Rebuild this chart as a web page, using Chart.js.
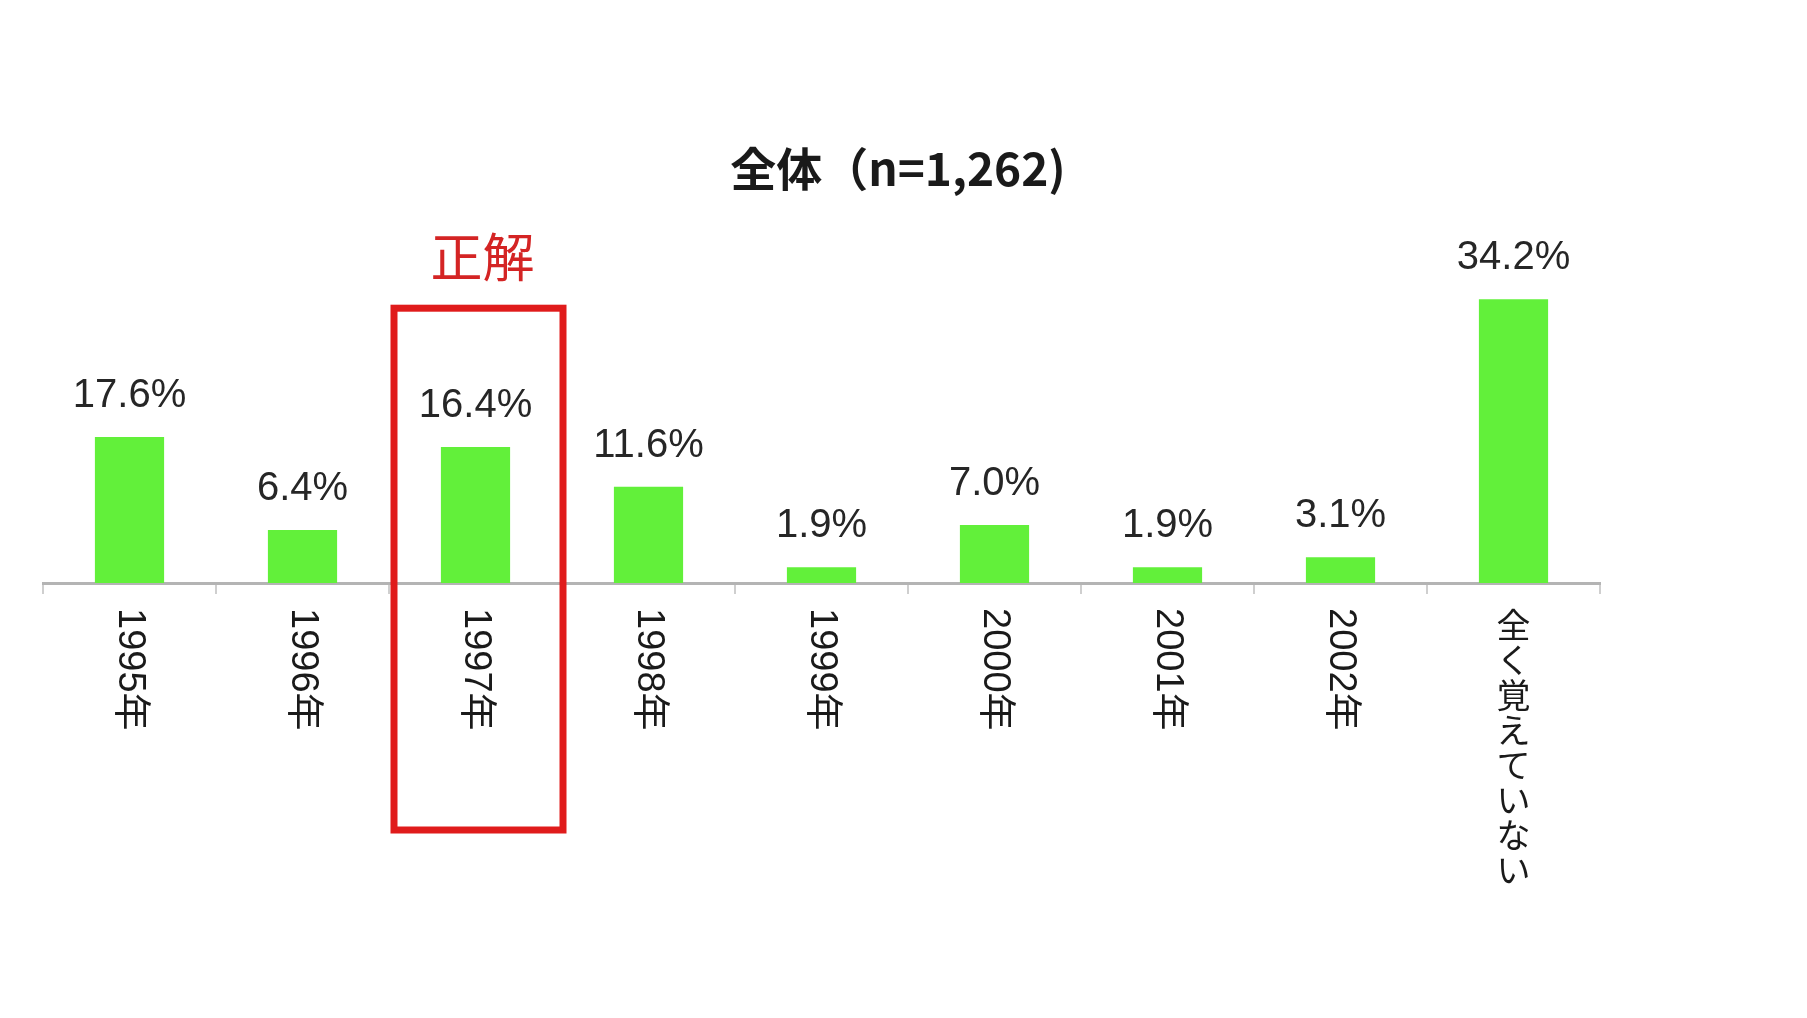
<!DOCTYPE html>
<html>
<head>
    <meta charset="utf-8">
    <title>全体（n=1,262)</title>
    <script src="https://cdn.jsdelivr.net/npm/chart.js@4.4.1/dist/chart.umd.min.js"></script>
    <style>
        body { margin: 0; background: #fff; }
        #wrap { width: 1807px; height: 1018px; position: relative; }
    </style>
</head>
<body>
    <div id="wrap"><canvas id="chartCanvas"></canvas></div>

    <script>
        // Date
        const categories = ['1995年', '1996年', '1997年', '1998年', '1999年', '2000年', '2001年', '2002年', '全く覚えていない'];
        const percents = [17.6, 6.4, 16.4, 11.6, 1.9, 7.0, 1.9, 3.1, 34.2];
        const answerLabel = '1997年';
        const titleText = '全体（n=1,262)';
        const answerText = '正解';

        const latinFont = '"Liberation Sans", Arial, "Noto Sans CJK JP", sans-serif';
        const cjkFont = '"Noto Sans CJK JP", "Liberation Sans", sans-serif';

        // Etichete, ticks si caseta rosie
        const labelsPlugin = {
            id: 'labelsPlugin',
            afterDraw(chart) {
                const ctx = chart.ctx;
                const xScale = chart.scales.x;
                const area = chart.chartArea;
                const meta = chart.getDatasetMeta(0);

                ctx.save();
                // valori deasupra barelor
                ctx.fillStyle = '#262626';
                ctx.font = '40px ' + latinFont;
                ctx.textAlign = 'center';
                ctx.textBaseline = 'middle';
                meta.data.forEach((bar, i) => {
                    ctx.fillText(percents[i].toFixed(1) + '%', bar.x, bar.y - 41);
                });

                // etichete axa x
                categories.forEach((label, i) => {
                    const x = xScale.getPixelForTick(i);
                    const top = area.bottom + 25;
                    ctx.fillStyle = '#1a1a1a';
                    if (/^\d/.test(label)) {
                        ctx.save();
                        ctx.translate(x, top);
                        ctx.rotate(Math.PI / 2);
                        ctx.font = '38px ' + latinFont;
                        ctx.textAlign = 'left';
                        ctx.textBaseline = 'middle';
                        ctx.fillText(label, 0, 0);
                        ctx.restore();
                    } else {
                        ctx.font = '34px ' + cjkFont;
                        ctx.textAlign = 'center';
                        ctx.textBaseline = 'top';
                        Array.from(label).forEach((ch, k) => {
                            ctx.fillText(ch, x, top + k * 35);
                        });
                    }
                });

                // caseta "正解"
                const idx = categories.indexOf(answerLabel);
                const cx = xScale.getPixelForTick(idx) + 3;
                const half = xScale.width / categories.length / 2 - 2;
                ctx.strokeStyle = '#e01b1b';
                ctx.lineWidth = 7;
                ctx.strokeRect(cx - half, area.top + 57, half * 2, area.bottom - area.top + 190);
                ctx.fillStyle = '#d42424';
                ctx.font = '52px ' + cjkFont;
                ctx.textAlign = 'center';
                ctx.textBaseline = 'middle';
                ctx.fillText(answerText, cx + 4, area.top + 6);
                ctx.restore();
            }
        };

        const ctx = document.getElementById('chartCanvas').getContext('2d');
        const chart = new Chart(ctx, {
            type: 'bar',
            data: {
                labels: categories,
                datasets: [{
                    data: percents,
                    backgroundColor: '#62f03a',
                    barPercentage: 0.4,
                    categoryPercentage: 1.0,
                }],
            },
            options: {
                responsive: true,
                maintainAspectRatio: false,
                animation: false,
                devicePixelRatio: 1,
                layout: {
                    padding: { left: 43, right: 54, top: 141, bottom: 0 },
                },
                plugins: {
                    legend: { display: false },
                    tooltip: { enabled: false },
                    title: {
                        display: true,
                        text: titleText,
                        color: '#1a1a1a',
                        font: { size: 46, weight: 'bold', family: cjkFont, lineHeight: 1.2 },
                        padding: { top: 0, bottom: 55 },
                    },
                },
                scales: {
                    x: {
                        ticks: { display: false },
                        grid: {
                            offset: true,
                            drawOnChartArea: false,
                            drawTicks: true,
                            tickLength: 11,
                            color: '#cfcfcf',
                            lineWidth: 2,
                        },
                        border: { display: true, color: '#b4b4b4', width: 3 },
                        afterFit(scale) { scale.height = 435; },
                    },
                    y: {
                        position: 'right',
                        min: 0,
                        max: 40,
                        display: true,
                        ticks: { display: false },
                        grid: { display: false },
                        border: { display: false },
                        afterFit(scale) { scale.width = 153; },
                    },
                },
            },
            plugins: [labelsPlugin],
        });
    </script>
</body>
</html>
